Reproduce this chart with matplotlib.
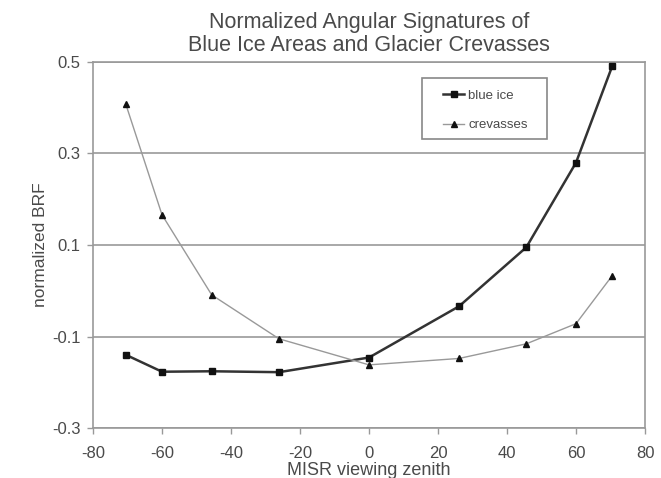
import matplotlib
matplotlib.use("Agg")
import matplotlib.pyplot as plt
from matplotlib.patches import Rectangle

plt.rcParams['font.family'] = ['Liberation Sans', 'DejaVu Sans']
plt.rcParams['axes.unicode_minus'] = False

zenith = [-70.5, -60.0, -45.6, -26.1, 0.0, 26.1, 45.6, 60.0, 70.5]
blue_ice = [-0.140, -0.177, -0.176, -0.178, -0.146, -0.034, 0.095, 0.280, 0.491]
crevasses = [0.408, 0.166, -0.009, -0.105, -0.162, -0.148, -0.116, -0.072, 0.033]
xticks = [-80, -60, -40, -20, 0, 20, 40, 60, 80]
yticks = [-0.3, -0.1, 0.1, 0.3, 0.5]

fig = plt.figure(figsize=(6.61, 4.78), dpi=100)
ax = fig.add_axes([0.1407, 0.1046, 0.8351, 0.7657])

txt = '#4a4a4a'
ax.plot(zenith, blue_ice, color='#333333', lw=1.8, marker='s', ms=4,
        mfc='#111111', mec='#111111', label='blue ice', zorder=3)
ax.plot(zenith, crevasses, color='#999999', lw=1.0, marker='^', ms=4,
        mfc='#111111', mec='#111111', label='crevasses', zorder=3)

ax.set_xlim(-80, 80)
ax.set_ylim(-0.3, 0.5)
ax.set_xticks(xticks)
ax.set_yticks(yticks)
ax.set_yticklabels([f'{v:.1f}' for v in yticks])
ax.yaxis.grid(True, color='#999999', lw=1.2)
ax.set_axisbelow(True)
for s in ax.spines.values():
    s.set_color('#999999')
    s.set_linewidth(1.2)
ax.tick_params(colors='#999999', labelcolor=txt, labelsize=12, length=4, width=1)
ax.tick_params(axis='x', pad=9)
ax.tick_params(axis='y', pad=5)

ax.set_xlabel('MISR viewing zenith', color=txt, fontsize=13, labelpad=1)
ax.set_ylabel('normalized BRF', color=txt, fontsize=12.5, labelpad=3)
ax.set_title('Normalized Angular Signatures of\nBlue Ice Areas and Glacier Crevasses',
             color=txt, fontsize=15.5, pad=8, linespacing=1.12)

leg = ax.legend(loc='center left', bbox_to_anchor=(0.634, 0.8675), fontsize=9.5,
                frameon=False, handlelength=1.6, handletextpad=0.3,
                labelspacing=1.3, borderpad=0, borderaxespad=0,
                labelcolor=txt)
ax.add_patch(Rectangle((0.596, 0.790), 0.226, 0.166, transform=ax.transAxes,
                       fill=True, facecolor='white', edgecolor='#888888',
                       lw=1.2, zorder=4))
leg.set_zorder(5)

fig.savefig('out.png', dpi=100)
